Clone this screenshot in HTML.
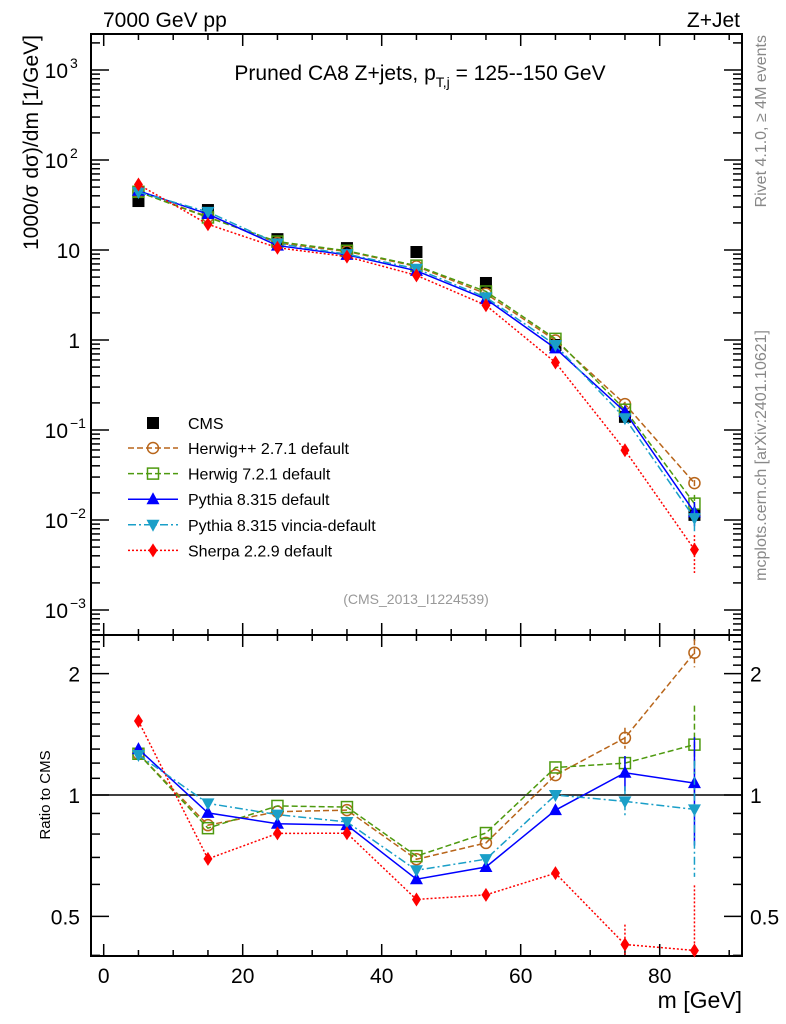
<!DOCTYPE html>
<html><head><meta charset="utf-8"><style>
body{margin:0;background:#fff;}
svg{display:block;font-family:"Liberation Sans",sans-serif;}
</style></head><body>
<svg id="c" width="786" height="1024" viewBox="0 0 786 1024"></svg>
<script>
const bins=[5,15,25,35,45,55,65,75,85];
const cms=[35,27.8,13.2,10.5,9.5,4.3,0.88,0.14,0.0114];
const herwigpp=[44.3,23.4,12.0,9.63,6.58,3.27,0.986,0.194,0.0257];
const herwig7=[44.3,23.0,12.4,9.80,6.70,3.46,1.03,0.168,0.0152];
const pythia=[45.5,25.1,11.2,8.84,5.87,2.85,0.807,0.159,0.0122];
const vincia=[44.0,26.5,11.8,9.0,6.18,2.98,0.88,0.135,0.0105];
const sherpa=[53.4,19.3,10.6,8.44,5.23,2.43,0.563,0.0596,0.00469];
const herwigppErr=[0,0,0,0,0,0,0,0.06,0.08];
const herwig7Err=[0,0,0,0,0,0,0,0.04,0.25];
const pythiaErr=[0,0,0,0,0,0,0,0.1,0.3];
const vinciaErr=[0,0,0,0,0,0,0,0.09,0.32];
const sherpaErr=[0,0,0,0,0,0,0.03,0.12,0.45];
const xTicks=[0,20,40,60,80];
const mainTicks=[-3,-2,-1,0,1,2,3];
const mainTickLabels=["10","10","10","1","10","10","10"];
const mainTickExp=["−3","−2","−1","","","2","3"];
const ratioTicks=[0.5,1,2];

const NS="http://www.w3.org/2000/svg";
const svg=document.getElementById('c');
function el(t,a,p){const e=document.createElementNS(NS,t);for(const k in a)e.setAttribute(k,a[k]);(p||svg).appendChild(e);return e;}
const L=91,R=742,T=34,M=635,B=956;
const X=v=>103.7+(v)*6.95;
const Y=v=>340-90*Math.log10(v);
const YR=v=>795-403*Math.log10(v);

let f1=el('rect',{x:L,y:T,width:R-L,height:M-T,fill:'none',stroke:'#000','stroke-width':2});

let f2=el('rect',{x:L,y:M,width:R-L,height:B-M,fill:'none',stroke:'#000','stroke-width':2});


for(let v=0;v<=90;v+=5){
  const major=v%20===0; const len=major?12:6;
  for(const [yb,yt] of [[B,M],[M,T]]){
    el('line',{x1:X(v),x2:X(v),y1:yb,y2:yb-len,stroke:'#000','stroke-width':1.5});
    el('line',{x1:X(v),x2:X(v),y1:yt,y2:yt+len,stroke:'#000','stroke-width':1.5});
  }
}
xTicks.forEach(v=>{const t=el('text',{x:X(v),y:983,'font-size':21,'text-anchor':'middle'});t.textContent=v;
});
let xl=el('text',{x:742,y:1008,'font-size':23,'text-anchor':'end'});xl.textContent='m [GeV]';


for(let d=-4;d<=3;d++){
  for(let m=1;m<10;m++){
    const v=m*Math.pow(10,d); const y=Y(v);
    if(y<T||y>M)continue;
    const len=m===1?18:9;
    el('line',{x1:L,x2:L+len,y1:y,y2:y,stroke:'#000','stroke-width':1.5});
    el('line',{x1:R,x2:R-len,y1:y,y2:y,stroke:'#000','stroke-width':1.5});
  }
}
mainTicks.forEach((d,i)=>{
  const t=el('text',{x:mainTickExp[i]?68:80,y:Y(Math.pow(10,d))+8,'font-size':21,'text-anchor':'end'});
  t.textContent=mainTickLabels[i];
  
  if(mainTickExp[i]){const s=el('text',{x:70,y:Y(Math.pow(10,d))-2,'font-size':14});s.textContent=mainTickExp[i];}
});
const rminor=[0.4,0.5,0.6,0.7,0.8,0.9,1,1.1,1.2,1.3,1.4,1.5,1.6,1.7,1.8,1.9,2,2.1,2.2,2.3,2.4,2.5];
rminor.forEach(v=>{const y=YR(v);if(y<M||y>B)return;const major=(v===0.5||v===1||v===2);const len=major?18:9;
  el('line',{x1:L,x2:L+len,y1:y,y2:y,stroke:'#000','stroke-width':1.5});
  el('line',{x1:R,x2:R-len,y1:y,y2:y,stroke:'#000','stroke-width':1.5});});
ratioTicks.forEach(v=>{
  const t=el('text',{x:80,y:YR(v)+8,'font-size':21,'text-anchor':'end'});t.textContent=v;
  
  const t2=el('text',{x:750,y:YR(v)+8,'font-size':21});t2.textContent=v;
  
});
let one=el('line',{x1:L,x2:R,y1:YR(1),y2:YR(1),stroke:'#000','stroke-width':1.5});


function txt(s,a,name){const t=el('text',a);t.textContent=s;return t;}
txt('7000 GeV pp',{x:103,y:27,'font-size':21},'energy-label');
txt('Z+Jet',{x:740,y:27,'font-size':21,'text-anchor':'end'},'process-label');
const tt=txt('',{x:420,y:80,'font-size':21,'text-anchor':'middle'},'plot-title');
tt.innerHTML='Pruned CA8 Z+jets, p<tspan font-size="14" dy="7">T,j</tspan><tspan dy="-7"> = 125--150 GeV</tspan>';
txt('(CMS_2013_I1224539)',{x:416,y:604,'font-size':14,fill:'#999','text-anchor':'middle'},'analysis-id');
txt('Rivet 4.1.0, ≥ 4M events',{x:0,y:0,'font-size':16,fill:'#888','text-anchor':'end',transform:'translate(766,35) rotate(-90)'},'rivet-label');
txt('mcplots.cern.ch [arXiv:2401.10621]',{x:0,y:0,'font-size':16,fill:'#888','text-anchor':'end',transform:'translate(766,330) rotate(-90)'},'mcplots-label');
const yt=txt('',{x:0,y:0,'font-size':21,'text-anchor':'end',transform:'translate(38,35) rotate(-90)'},'y-axis-title');
yt.textContent='1000/σ   dσ)/dm [1/GeV]';
txt('Ratio to CMS',{x:0,y:0,'font-size':15,'text-anchor':'middle',transform:'translate(50,795) rotate(-90)'},'ratio-axis-title');

function marker(kind,cx,cy,color,g){
  if(kind==='sq')el('rect',{x:cx-6,y:cy-6,width:12,height:12,fill:'#000'},g);
  else if(kind==='circ')el('circle',{cx,cy,r:5.5,fill:'none',stroke:color,'stroke-width':1.5},g);
  else if(kind==='osq')el('rect',{x:cx-5.5,y:cy-5.5,width:11,height:11,fill:'none',stroke:color,'stroke-width':1.5},g);
  else if(kind==='up')el('polygon',{points:`${cx},${cy-7} ${cx-6.5},${cy+5} ${cx+6.5},${cy+5}`,fill:color},g);
  else if(kind==='dn')el('polygon',{points:`${cx},${cy+7} ${cx-6.5},${cy-5} ${cx+6.5},${cy-5}`,fill:color},g);
  else if(kind==='dia')el('polygon',{points:`${cx},${cy-7} ${cx-4.5},${cy} ${cx},${cy+7} ${cx+4.5},${cy}`,fill:color},g);
}
const series=[
 {name:'herwigpp',vals:herwigpp,err:herwigppErr,color:'#b8651a',dash:'6,3',kind:'circ',label:'Herwig++ 2.7.1 default'},
 {name:'herwig7',vals:herwig7,err:herwig7Err,color:'#4e9a0f',dash:'6,3',kind:'osq',label:'Herwig 7.2.1 default'},
 {name:'pythia',vals:pythia,err:pythiaErr,color:'#0000ff',dash:'none',kind:'up',label:'Pythia 8.315 default'},
 {name:'vincia',vals:vincia,err:vinciaErr,color:'#1a9fc8',dash:'8,3,2,3',kind:'dn',label:'Pythia 8.315 vincia-default'},
 {name:'sherpa',vals:sherpa,err:sherpaErr,color:'#ff0000',dash:'2,2',kind:'dia',label:'Sherpa 2.2.9 default'}
];
const gc=el('g',{});
bins.forEach((b,i)=>marker('sq',X(b),Y(cms[i]),'#000',gc));

series.forEach(s=>{
  const g=el('g',{});
  const pts=bins.map((b,i)=>X(b)+','+Y(s.vals[i])).join(' ');
  el('polyline',{points:pts,fill:'none',stroke:s.color,'stroke-width':1.5,'stroke-dasharray':s.dash},g);
  bins.forEach((b,i)=>{const v=s.vals[i],e=s.err[i];
    if(e>0)el('line',{x1:X(b),x2:X(b),y1:Y(v*(1+e)),y2:Y(Math.max(v*(1-e),1e-4)),stroke:s.color,'stroke-width':1.5,'stroke-dasharray':s.dash},g);
    marker(s.kind,X(b),Y(v),s.color,g);});
  const gr=el('g',{});
  const rp=bins.map((b,i)=>X(b)+','+YR(s.vals[i]/cms[i])).join(' ');
  el('polyline',{points:rp,fill:'none',stroke:s.color,'stroke-width':1.5,'stroke-dasharray':s.dash},gr);
  bins.forEach((b,i)=>{const r=s.vals[i]/cms[i],e=s.err[i];
    if(e>0)el('line',{x1:X(b),x2:X(b),y1:Math.max(YR(r*(1+e)),M),y2:Math.min(YR(Math.max(r*(1-e),0.01)),B),stroke:s.color,'stroke-width':1.5,'stroke-dasharray':s.dash},gr);
    marker(s.kind,X(b),YR(r),s.color,gr);});
});

const lg=el('g',{});
const le0=el('g',{},lg);
marker('sq',153,423,'#000',le0);
const t0=el('text',{x:188,y:429,'font-size':16},le0);t0.textContent='CMS';
series.forEach((s,i)=>{
  const y=448+i*25.6;
  const g=el('g',{},lg);
  el('line',{x1:128,x2:178,y1:y,y2:y,stroke:s.color,'stroke-width':1.5,'stroke-dasharray':s.dash},g);
  marker(s.kind,153,y,s.color,g);
  const t=el('text',{x:188,y:y+6,'font-size':16},g);t.textContent=s.label;
});
</script>
</body></html>
